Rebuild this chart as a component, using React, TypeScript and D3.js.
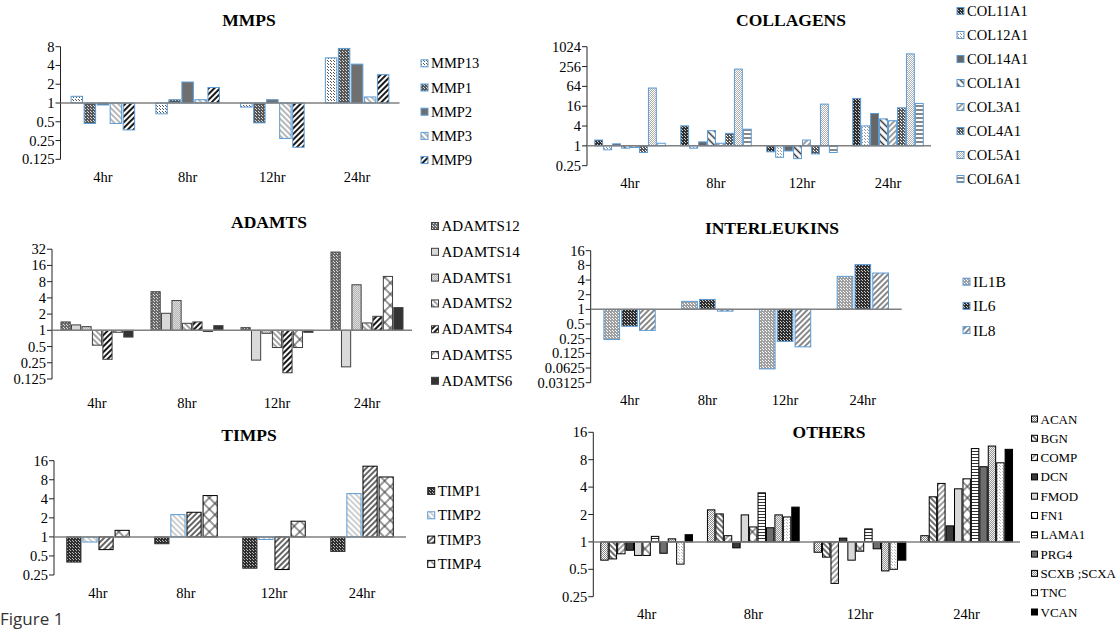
import React from "react";
import * as d3 from "d3";

const timePoints = ["4hr", "8hr", "12hr", "24hr"];

const mmpGenes = ["MMP13", "MMP1", "MMP2", "MMP3", "MMP9"];
const mmpValues = [
  [1.28, 0.67, 0.86, 5.3],
  [0.47, 1.13, 0.48, 7.5],
  [0.93, 2.17, 1.13, 4.2],
  [0.47, 1.13, 0.27, 1.25],
  [0.37, 1.77, 0.195, 2.85],
];
const mmpTicks = [0.125, 0.25, 0.5, 1, 2, 4, 8];

const colGenes = ["COL11A1", "COL12A1", "COL14A1", "COL1A1", "COL3A1", "COL4A1", "COL5A1", "COL6A1"];
const colValues = [
  [1.5, 4.05, 0.66, 27.5],
  [0.76, 0.85, 0.45, 4.05],
  [1.15, 1.32, 0.7, 9.6],
  [0.85, 2.9, 0.41, 6.6],
  [0.89, 1.2, 1.5, 5.8],
  [0.63, 2.4, 0.57, 14.3],
  [57, 214, 18.5, 620],
  [1.2, 3.2, 0.63, 19.4],
];
const colTicks = [0.25, 1, 4, 16, 64, 256, 1024];

const adamtsGenes = ["ADAMTS12", "ADAMTS14", "ADAMTS1", "ADAMTS2", "ADAMTS4", "ADAMTS5", "ADAMTS6"];
const adamtsValues = [
  [1.43, 5.2, 1.12, 28.3],
  [1.26, 2.07, 0.28, 0.21],
  [1.17, 3.57, 0.88, 7.0],
  [0.53, 1.35, 0.48, 1.37],
  [0.29, 1.43, 0.163, 1.82],
  [0.92, 0.95, 0.48, 10.0],
  [0.75, 1.22, 0.92, 2.64],
];
const adamtsTicks = [0.125, 0.25, 0.5, 1, 2, 4, 8, 16, 32];

const ilGenes = ["IL1B", "IL6", "IL8"];
const ilValues = [
  [0.24, 1.46, 0.06, 4.76],
  [0.45, 1.6, 0.22, 8.3],
  [0.37, 0.92, 0.17, 5.57],
];
const ilTicks = [0.03125, 0.0625, 0.125, 0.25, 0.5, 1, 2, 4, 8, 16];

const timpGenes = ["TIMP1", "TIMP2", "TIMP3", "TIMP4"];
const timpValues = [
  [0.4, 0.78, 0.32, 0.59],
  [0.83, 2.25, 0.91, 4.83],
  [0.63, 2.45, 0.305, 13.1],
  [1.27, 4.5, 1.77, 8.85],
];
const timpTicks = [0.25, 0.5, 1, 2, 4, 8, 16];

const otherGenes = ["ACAN", "BGN", "COMP", "DCN", "FMOD", "FN1", "LAMA1", "PRG4", "SCXB ;SCXA", "TNC", "VCAN"];
const otherValues = [
  [0.63, 2.25, 0.77, 1.17],
  [0.65, 2.03, 0.68, 3.13],
  [0.74, 1.17, 0.35, 4.39],
  [0.81, 0.86, 1.1, 1.5],
  [0.71, 1.98, 0.63, 3.83],
  [0.71, 1.46, 0.79, 4.93],
  [1.15, 3.46, 1.39, 10.6],
  [0.75, 1.43, 0.84, 6.7],
  [1.08, 1.98, 0.48, 11.3],
  [0.57, 1.88, 0.5, 7.4],
  [1.2, 2.41, 0.63, 10.4],
];
const otherTicks = [0.25, 0.5, 1, 2, 4, 8, 16];

type Spec =
  | { kind: "solid"; fg: string }
  | { kind: "dots"; fg: string; bg: string; size: number }
  | { kind: "diag"; fg: string; bg: string; gap: number; w: number; dir: "up" | "down" }
  | { kind: "cross"; fg: string; bg: string; gap: number; w: number }
  | { kind: "hlines"; fg: string; bg: string; gap: number; w: number };

const BLUE = "#5B9BD5";
const W = "#ffffff";

const mmpStyles: Spec[] = [
  { kind: "dots", fg: "#555", bg: W, size: 3 },
  { kind: "dots", fg: "#d8d8d8", bg: "#555", size: 3 },
  { kind: "solid", fg: "#6f6f6f" },
  { kind: "diag", fg: "#9a9a9a", bg: W, gap: 4, w: 1.4, dir: "down" },
  { kind: "diag", fg: "#1a1a1a", bg: W, gap: 4, w: 2, dir: "up" },
];
const mmpStrokes = [BLUE, BLUE, BLUE, BLUE, BLUE];

const colStyles: Spec[] = [
  { kind: "dots", fg: "#ccc", bg: "#2e2e2e", size: 3 },
  { kind: "dots", fg: "#999", bg: W, size: 3 },
  { kind: "solid", fg: "#666" },
  { kind: "diag", fg: "#333", bg: W, gap: 5, w: 1.5, dir: "down" },
  { kind: "diag", fg: "#777", bg: W, gap: 4, w: 1.4, dir: "up" },
  { kind: "dots", fg: "#fff", bg: "#555", size: 3 },
  { kind: "dots", fg: "#fff", bg: "#b0b0b0", size: 2 },
  { kind: "hlines", fg: "#555", bg: W, gap: 4, w: 1.4 },
];
const colStrokes = colGenes.map(() => BLUE);

const adamtsStyles: Spec[] = [
  { kind: "dots", fg: "#ddd", bg: "#6a6a6a", size: 3 },
  { kind: "solid", fg: "#d9d9d9" },
  { kind: "dots", fg: "#ddd", bg: "#b5b5b5", size: 2 },
  { kind: "diag", fg: "#666", bg: W, gap: 4, w: 1.2, dir: "down" },
  { kind: "diag", fg: "#1a1a1a", bg: W, gap: 4, w: 2, dir: "up" },
  { kind: "cross", fg: "#333", bg: W, gap: 8, w: 1 },
  { kind: "solid", fg: "#333" },
];
const adamtsStrokes = adamtsGenes.map(() => "#404040");

const ilStyles: Spec[] = [
  { kind: "dots", fg: "#fff", bg: "#a0a0a0", size: 3 },
  { kind: "dots", fg: "#ccc", bg: "#2e2e2e", size: 3 },
  { kind: "diag", fg: "#555", bg: W, gap: 4, w: 1.4, dir: "up" },
];
const ilStrokes = [BLUE, BLUE, BLUE];

const timpStyles: Spec[] = [
  { kind: "dots", fg: "#bbb", bg: "#2e2e2e", size: 3 },
  { kind: "diag", fg: "#bbb", bg: W, gap: 4, w: 1.4, dir: "down" },
  { kind: "diag", fg: "#333", bg: W, gap: 4, w: 1.5, dir: "up" },
  { kind: "cross", fg: "#333", bg: W, gap: 8, w: 1 },
];
const timpStrokes = ["#2e2e2e", BLUE, "#000", "#000"];

const otherStyles: Spec[] = [
  { kind: "dots", fg: "#888", bg: W, size: 2 },
  { kind: "diag", fg: "#333", bg: W, gap: 4, w: 1.4, dir: "down" },
  { kind: "diag", fg: "#777", bg: W, gap: 4, w: 1.4, dir: "up" },
  { kind: "solid", fg: "#3a3a3a" },
  { kind: "solid", fg: "#d9d9d9" },
  { kind: "cross", fg: "#333", bg: W, gap: 8, w: 1 },
  { kind: "hlines", fg: "#333", bg: W, gap: 3, w: 1 },
  { kind: "solid", fg: "#6e6e6e" },
  { kind: "dots", fg: "#eee", bg: "#999", size: 2 },
  { kind: "dots", fg: "#bbb", bg: W, size: 3 },
  { kind: "solid", fg: "#000" },
];
const otherStrokes = otherGenes.map(() => "#000");

function PatternDef({ id, s }: { id: string; s: Spec }) {
  if (s.kind === "solid") return null;
  if (s.kind === "dots") {
    const n = s.size;
    return (
      <pattern id={id} width={n} height={n} patternUnits="userSpaceOnUse">
        <rect width={n} height={n} fill={s.bg} />
        <rect x={0} y={0} width={1} height={1} fill={s.fg} />
        <rect x={Math.floor(n / 2)} y={Math.floor(n / 2)} width={1} height={1} fill={s.fg} />
      </pattern>
    );
  }
  if (s.kind === "diag") {
    const g = s.gap;
    return (
      <pattern id={id} width={g} height={g} patternUnits="userSpaceOnUse" patternTransform={`rotate(${s.dir === "up" ? 45 : -45})`}>
        <rect width={g} height={g} fill={s.bg} />
        <line x1={g / 2} y1={0} x2={g / 2} y2={g} stroke={s.fg} strokeWidth={s.w} />
      </pattern>
    );
  }
  if (s.kind === "cross") {
    const g = s.gap;
    return (
      <pattern id={id} width={g} height={g} patternUnits="userSpaceOnUse" patternTransform="rotate(45)">
        <rect width={g} height={g} fill={s.bg} />
        <line x1={g / 2} y1={0} x2={g / 2} y2={g} stroke={s.fg} strokeWidth={s.w} />
        <line x1={0} y1={g / 2} x2={g} y2={g / 2} stroke={s.fg} strokeWidth={s.w} />
      </pattern>
    );
  }
  const g = s.gap;
  return (
    <pattern id={id} width={g} height={g} patternUnits="userSpaceOnUse">
      <rect width={g} height={g} fill={s.bg} />
      <line x1={0} y1={g / 2} x2={g} y2={g / 2} stroke={s.fg} strokeWidth={s.w} />
    </pattern>
  );
}

type PanelCfg = {
  id: string;
  title: string;
  titleX: number;
  titleY: number;
  genes: string[];
  values: number[][];
  ticks: number[];
  styles: Spec[];
  strokes: string[];
  left: number;
  right: number;
  top: number;
  bottom: number;
  groupFrac: number;
  labelY: number;
  legendX: number;
  legendY: number;
  legendDy: number;
  legendFont: number;
  square: number;
};

const SERIF = "'Liberation Serif', 'Times New Roman', serif";

function Panel({ c }: { c: PanelCfg }) {
  const x0 = d3.scaleBand<string>().domain(timePoints).range([c.left, c.right]);
  const gw = x0.bandwidth() * c.groupFrac;
  const x1 = d3.scaleBand<string>().domain(c.genes).range([0, gw]).paddingInner(0.12);
  const y = d3
    .scaleLog()
    .base(2)
    .domain([c.ticks[0], c.ticks[c.ticks.length - 1]])
    .range([c.bottom, c.top]);
  const y1 = y(1);
  const fillOf = (i: number) => {
    const s = c.styles[i];
    return s.kind === "solid" ? s.fg : `url(#${c.id}-p${i})`;
  };
  return (
    <g>
      <defs>
        {c.styles.map((s, i) => (
          <PatternDef key={i} id={`${c.id}-p${i}`} s={s} />
        ))}
      </defs>
      <text x={c.titleX} y={c.titleY} textAnchor="middle" dominantBaseline="central" fontFamily={SERIF} fontWeight="bold" fontSize={17.5} fill="#000">
        {c.title}
      </text>
      <line x1={c.left} x2={c.left} y1={c.top} y2={c.bottom} stroke="#222" strokeWidth={1} />
      {c.ticks.map((t) => (
        <g key={t}>
          <line x1={c.left - 5} x2={c.left} y1={y(t)} y2={y(t)} stroke="#222" strokeWidth={1} />
          <text x={c.left - 6} y={y(t)} textAnchor="end" dominantBaseline="central" fontFamily={SERIF} fontSize={14.5} fill="#000">
            {String(t)}
          </text>
        </g>
      ))}
      {c.genes.map((g, gi) =>
        timePoints.map((t, ti) => {
          const v = c.values[gi][ti];
          const bx = (x0(t) as number) + (x0.bandwidth() - gw) / 2 + (x1(g) as number);
          const yv = y(v);
          return (
            <rect
              key={g + t}
              x={bx}
              width={x1.bandwidth()}
              y={Math.min(yv, y1)}
              height={Math.abs(yv - y1)}
              fill={fillOf(gi)}
              stroke={c.strokes[gi]}
              strokeWidth={1}
            />
          );
        })
      )}
      <line x1={c.left} x2={c.right} y1={y1} y2={y1} stroke="#808080" strokeWidth={1.5} />
      {timePoints.map((t) => (
        <text key={t} x={(x0(t) as number) + x0.bandwidth() / 2} y={c.labelY} textAnchor="middle" dominantBaseline="central" fontFamily={SERIF} fontSize={14.5} fill="#000">
          {t}
        </text>
      ))}
      {c.genes.map((g, gi) => {
        const ly = c.legendY + gi * c.legendDy;
        return (
          <g key={g}>
            <rect x={c.legendX} y={ly - c.square / 2} width={c.square} height={c.square} fill={fillOf(gi)} stroke={c.strokes[gi]} strokeWidth={1} />
            <text x={c.legendX + c.square + 3} y={ly} dominantBaseline="central" fontFamily={SERIF} fontSize={c.legendFont} fill="#000">
              {g}
            </text>
          </g>
        );
      })}
    </g>
  );
}

const panels: PanelCfg[] = [
  {
    id: "mmp", title: "MMPS", titleX: 249, titleY: 20, genes: mmpGenes, values: mmpValues, ticks: mmpTicks,
    styles: mmpStyles, strokes: mmpStrokes, left: 60.5, right: 399.5, top: 46.7, bottom: 159.3, groupFrac: 0.75,
    labelY: 177, legendX: 421, legendY: 63.3, legendDy: 24.2, legendFont: 14.5, square: 7,
  },
  {
    id: "col", title: "COLLAGENS", titleX: 791, titleY: 20, genes: colGenes, values: colValues, ticks: colTicks,
    styles: colStyles, strokes: colStrokes, left: 587, right: 931, top: 46.7, bottom: 165.7, groupFrac: 0.82,
    labelY: 183, legendX: 957, legendY: 11, legendDy: 24, legendFont: 14.5, square: 7,
  },
  {
    id: "adam", title: "ADAMTS", titleX: 269, titleY: 222, genes: adamtsGenes, values: adamtsValues, ticks: adamtsTicks,
    styles: adamtsStyles, strokes: adamtsStrokes, left: 52, right: 412, top: 249.2, bottom: 379, groupFrac: 0.8,
    labelY: 403, legendX: 431.5, legendY: 226, legendDy: 25.8, legendFont: 15, square: 7,
  },
  {
    id: "il", title: "INTERLEUKINS", titleX: 772, titleY: 228, genes: ilGenes, values: ilValues, ticks: ilTicks,
    styles: ilStyles, strokes: ilStrokes, left: 590.7, right: 901.7, top: 250.7, bottom: 382.7, groupFrac: 0.66,
    labelY: 400, legendX: 963, legendY: 281.7, legendDy: 24.2, legendFont: 15.5, square: 7,
  },
  {
    id: "timp", title: "TIMPS", titleX: 249, titleY: 435, genes: timpGenes, values: timpValues, ticks: timpTicks,
    styles: timpStyles, strokes: timpStrokes, left: 54, right: 406, top: 460.7, bottom: 575, groupFrac: 0.71,
    labelY: 593.3, legendX: 427.7, legendY: 491, legendDy: 24.3, legendFont: 15, square: 7,
  },
  {
    id: "oth", title: "OTHERS", titleX: 829, titleY: 432, genes: otherGenes, values: otherValues, ticks: otherTicks,
    styles: otherStyles, strokes: otherStrokes, left: 593.3, right: 1020, top: 432.3, bottom: 596.7, groupFrac: 0.86,
    labelY: 614, legendX: 1031.5, legendY: 419, legendDy: 19.3, legendFont: 13, square: 6,
  },
];

export default function App() {
  return (
    <svg
      width={1118}
      height={631}
      viewBox="0 0 1118 631"
      style={{ position: "absolute", left: 0, top: 0, background: "#fff" }}
    >
      <rect width={1118} height={631} fill="#fff" />
      {panels.map((p) => (
        <Panel key={p.id} c={p} />
      ))}
      <text x={0} y={625} fontFamily="'Open Sans', 'Liberation Sans', sans-serif" fontSize={17} fill="#333">
        Figure 1
      </text>
    </svg>
  );
}
